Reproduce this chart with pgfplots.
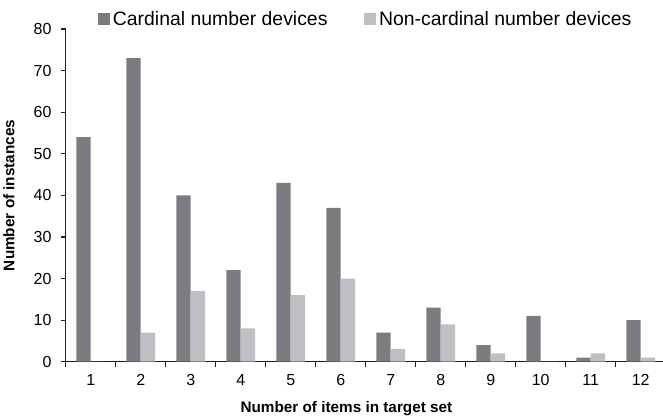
\documentclass[border=0pt]{standalone}
\usepackage{pgfplots}
\pgfplotsset{compat=1.18}
\usepackage{fontspec}
\setmainfont{Liberation Sans}
\definecolor{cdark}{HTML}{7B7C80}
\definecolor{clight}{HTML}{BEBFC3}
\definecolor{caxis}{HTML}{1E1E1E}
\begin{document}
\begin{tikzpicture}[x=1pt,y=1pt]
\begin{axis}[
  at={(0pt,0pt)}, anchor=south west,
  scale only axis,
  width=597.3pt, height=332.7pt,
  xmin=0.5, xmax=12.446, ymin=0, ymax=80,
  axis x line*=bottom, axis y line*=left,
  axis line style={caxis, line width=1.2pt},
  xtick={1,...,12},
  major x tick style={draw=none},
  minor xtick={0.5,1.5,...,11.5},
  minor tick length=5pt,
  every minor tick/.style={caxis, line width=1.2pt},
  ytick={0,10,...,80},
  major tick length=5pt,
  every tick/.style={caxis, line width=1.2pt},
  tick align=outside,
  tick label style={font=\fontsize{16}{18}\selectfont, inner sep=0pt},
  /pgf/number format/assume math mode=true,
  xticklabel style={anchor=base, yshift=-19pt},
  yticklabel style={anchor=east, xshift=-9pt},
  ylabel={Number of instances},
  xlabel={Number of items in target set},
  label style={font=\fontsize{15.3}{17}\selectfont\bfseries, inner sep=0pt},
  ylabel style={at={(axis description cs:-0.105,0.5)}, anchor=north, rotate=0},
  xlabel style={at={(axis description cs:0.470,-0.1527)}, anchor=base},
  ybar=0pt, bar width=0.286,
  legend columns=2,
  legend style={draw=none, fill=none, at={(axis description cs:0.054,1.03)}, anchor=west,
    font=\fontsize{19.4}{21}\selectfont, inner sep=0pt, outer sep=0pt,
    nodes={inner sep=0pt},
    /tikz/every odd column/.append style={column sep=3pt},
    /tikz/every even column/.append style={column sep=36.5pt}},
  legend image code/.code={\fill[#1] (0pt,-6pt) rectangle (12pt,6pt);},
]
\addplot[fill=cdark, draw=none] coordinates {
 (1,54) (2,73) (3,40) (4,22) (5,43) (6,37) (7,7) (8,13) (9,4) (10,11) (11,1) (12,10)};
\addplot[fill=clight, draw=none] coordinates {
 (1,0) (2,7) (3,17) (4,8) (5,16) (6,20) (7,3) (8,9) (9,2) (10,0) (11,2) (12,1)};
\legend{Cardinal number devices, Non-cardinal number devices}
\end{axis}
\pgfresetboundingbox
\path[use as bounding box] (-65.7pt,-53.3pt) rectangle (597.3pt,361.7pt);
\end{tikzpicture}
\end{document}
